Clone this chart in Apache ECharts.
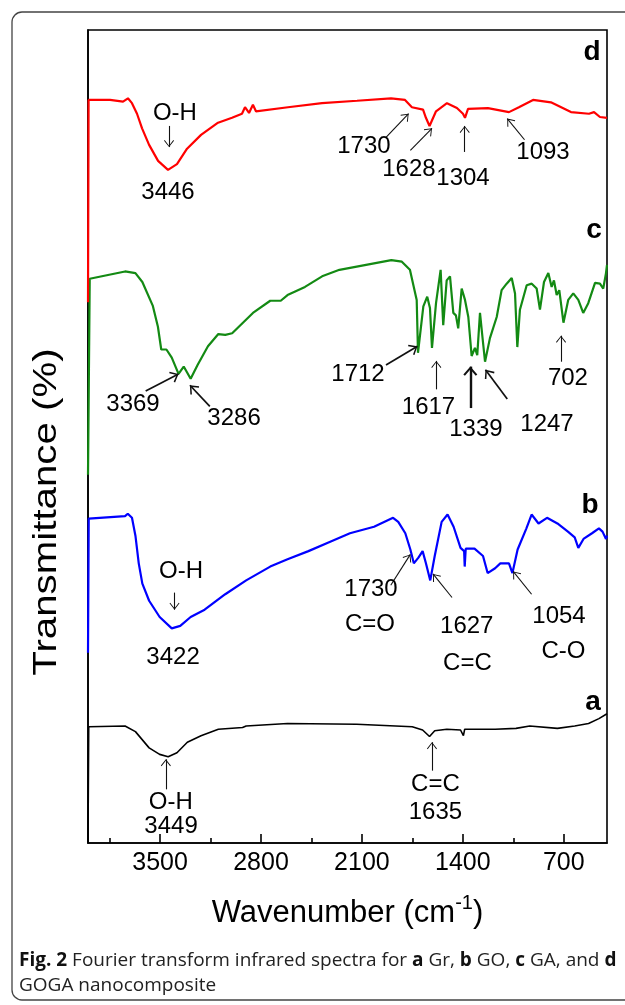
<!DOCTYPE html>
<html><head><meta charset="utf-8">
<script src="https://cdn.jsdelivr.net/npm/echarts@6/dist/echarts.min.js"></script>
<style>html,body{margin:0;padding:0;background:#fff}#c{width:625px;height:1005px}</style>
</head><body><div id="c"></div>
<script>
// ---- data: [wavenumber (cm-1), transmittance offset (a.u.)] ----
const specA = [[4000,0],[3995,14.3],[3743,14.4],[3671,13.7],[3576,11.7],[3503,10.9],[3444,10.6],[3383,11.1],[3311,12.4],[3216,13.2],[3096,14.0],[2928,14.2],[2903,14.4],[2616,14.7],[2136,14.6],[1751,14.3],[1679,13.9],[1631,13.1],[1595,13.8],[1511,14.0],[1416,13.9],[1396,13.2],[1387,14.0],[1176,14.0],[1031,14.1],[936,14.4],[744,14.1],[624,14.4],[528,14.7],[456,15.3],[400,15.9]];
const specB = [[4000,23.4],[3995,39.9],[3743,40.2],[3724,40.5],[3695,40.0],[3671,37.8],[3648,34.4],[3623,31.9],[3576,29.8],[3503,27.8],[3419,26.4],[3360,26.7],[3288,27.8],[3191,28.7],[3048,30.6],[2903,32.3],[2736,34.0],[2616,34.9],[2471,35.9],[2328,37.0],[2183,38.1],[2016,38.9],[1884,40.0],[1848,39.5],[1799,38.1],[1764,36.1],[1740,34.4],[1708,35.1],[1679,35.9],[1656,34.4],[1626,32.3],[1595,35.3],[1547,39.5],[1506,40.4],[1464,38.9],[1416,36.3],[1391,35.9],[1387,34.0],[1380,36.2],[1319,36.2],[1260,35.3],[1228,33.2],[1176,33.8],[1140,34.4],[1080,34.4],[1056,33.2],[1020,36.1],[959,38.7],[923,40.4],[875,39.3],[816,40.0],[744,39.3],[671,38.3],[624,37.6],[599,36.3],[563,37.4],[504,38.1],[456,38.7],[431,38.3],[407,37.4],[400,37.8]];
const specC = [[4000,45.3],[3988,69.4],[3743,70.3],[3671,70.1],[3623,69.0],[3551,66.1],[3515,63.5],[3492,60.7],[3456,60.7],[3419,59.7],[3372,57.7],[3336,58.6],[3288,57.1],[3240,58.8],[3168,61.1],[3096,62.6],[3048,62.5],[3000,62.7],[2856,65.2],[2736,66.7],[2663,66.7],[2616,67.4],[2495,68.4],[2376,69.7],[2256,70.5],[2136,70.9],[2016,71.3],[1896,71.7],[1823,71.5],[1767,70.5],[1720,66.8],[1711,60.3],[1674,66.0],[1647,67.2],[1628,65.8],[1614,60.9],[1586,66.4],[1554,70.5],[1536,63.7],[1512,69.2],[1489,69.7],[1466,65.2],[1448,64.9],[1432,63.3],[1408,68.2],[1385,66.8],[1362,64.7],[1339,59.9],[1316,60.9],[1300,60.0],[1281,65.2],[1262,61.9],[1246,59.2],[1212,62.1],[1165,64.7],[1131,68.0],[1096,68.8],[1061,69.5],[1038,67.6],[1022,61.0],[1004,65.6],[957,68.6],[922,68.8],[888,68.2],[865,65.6],[837,69.0],[807,70.1],[784,68.4],[768,69.2],[749,67.4],[731,68.0],[702,64.0],[669,66.8],[634,67.6],[599,66.8],[565,65.2],[530,66.4],[483,68.9],[449,68.8],[426,68.2],[407,70.1],[400,71.1]];
const specD = [[4000,66.5],[3996,91.4],[3847,91.4],[3757,91.2],[3723,91.6],[3695,91.0],[3660,89.7],[3625,87.9],[3577,85.9],[3514,83.9],[3445,82.8],[3383,83.5],[3313,85.4],[3216,87.1],[3098,88.6],[3001,89.2],[2932,89.7],[2911,90.5],[2883,89.8],[2856,90.8],[2835,90.0],[2613,90.5],[2377,91.0],[2134,91.3],[1898,91.6],[1801,91.4],[1753,90.5],[1676,90.2],[1656,89.2],[1631,88.2],[1586,90.0],[1510,91.0],[1441,90.4],[1399,89.7],[1385,89.2],[1364,90.3],[1226,90.4],[1080,89.9],[1011,90.5],[913,91.4],[789,91.1],[650,89.9],[525,89.7],[490,89.9],[449,89.3],[400,89.2]];

const majorTicks = [3500, 2800, 2100, 1400, 700];
const minorTicks = [3850, 3150, 2450, 1750, 1050];

// panel letters and peak annotations: [text, wavenumber, transmittance]
const panelLetters = [['d',504,97.3],['c',490,75.4],['b',518,41.6],['a',497,17.3]];
const peakLabels = [
  ['O-H',3397,89.8],['3446',3445,80.0],['1730',2086,85.7],['1628',1774,82.9],['1304',1399,81.8],['1093',844,84.9],
  ['3369',3688,54.0],['3286',2987,52.2],['1712',2127,57.7],['1617',1638,53.6],['1339',1309,50.9],['1247',816,51.5],['702',671,57.2],
  ['O-H',3355,33.4],['3422',3410,22.8],['1730',2037,31.2],['C=O',2044,26.9],['1627',1373,26.6],['C=C',1368,22.1],['1054',733,27.9],['C-O',702,23.6],
  ['O-H',3426,5.0],['3449',3424,2.1],['C=C',1590,7.2],['1635',1590,3.8]
];
// arrows: [tail wavenumber, tail T, tip wavenumber, tip T]
const arrowsThin = [
  [3438,88.2,3438,85.6],[1933,86.8,1776,89.7],[1764,85.2,1614,87.9],[1387,85.0,1387,88.2],[972,86.5,1092,89.1],
  [1584,55.8,1584,59.3],[719,59.2,719,62.4],
  [3400,30.8,3400,28.7],[1900,31.7,1764,35.5],[1475,30.2,1607,33.1],[923,30.6,1051,33.4],
  [3460,6.6,3460,10.3],[1614,8.9,1614,12.4]
];
const arrowsMedium = [[3600,55.6,3372,57.7],[3155,53.7,3293,56.3],[1933,58.8,1715,61.1],[1092,54.6,1243,58.2]];
const arrowsThick = [[1348,53.5,1348,58.6]];

const FF = "'Liberation Sans', Arial, sans-serif";
const headThin = 'path://M0,-7M0,0L5,6.3L4.3,7L0,1.4L-4.3,7L-5,6.3Z';
const headMed = 'path://M0,-8M0,0L6,7L4.8,8L0,2.2L-4.8,8L-6,7Z';
const headThick = 'path://M0,-9M0,0L7,8L5.4,9.2L0,3L-5.4,9.2L-7,8Z';

function arrowSeries(list, head, size, width) {
  return {
    type: 'line', data: [], silent: true, xAxisIndex: 0,
    markLine: {
      silent: true, animation: false,
      symbol: ['none', head], symbolSize: size,
      lineStyle: { color: '#111', width: width, type: 'solid' },
      label: { show: false },
      data: list.map(a => [{ coord: [a[0], a[1]] }, { coord: [a[2], a[3]] }])
    }
  };
}
function curve(data, color, width) {
  return { type: 'line', data: data, showSymbol: false, symbol: 'none', silent: true,
    lineStyle: { color: color, width: width }, itemStyle: { color: color }, z: 3 };
}
function textSeries(list, size, weight) {
  return { type: 'scatter', silent: true, symbolSize: 1, z: 5,
    itemStyle: { color: 'rgba(0,0,0,0)' },
    data: list.map(p => ({ value: [p[1], p[2]], name: p[0] })),
    label: { show: true, position: 'inside', formatter: p => p.name, color: '#000', opacity: 1,
      fontSize: size, fontWeight: weight, fontFamily: FF },
    labelLayout: { hideOverlap: false } };
}

const chart = echarts.init(document.getElementById('c'), null, { renderer: 'canvas' });
chart.setOption({
  animation: false,
  backgroundColor: '#fff',
  grid: { left: 88, right: 18, top: 30, bottom: 162, show: true, borderColor: '#000', borderWidth: 1.6, containLabel: false, outerBoundsMode: 'none' },
  xAxis: [
    { type: 'value', min: 400, max: 4000, inverse: true, position: 'bottom',
      axisLine: { show: true, lineStyle: { color: '#000', width: 1.6 } },
      axisTick: { show: true, inside: true, length: 9, customValues: majorTicks, lineStyle: { color: '#000', width: 1.6 } },
      axisLabel: { show: true, customValues: majorTicks, formatter: v => String(v), margin: 8, color: '#000', fontSize: 25, fontFamily: FF },
      splitLine: { show: false },
      name: '{t|Wavenumber (cm}{s|-1}{t|)}', nameLocation: 'middle', nameGap: 50,
      nameTextStyle: { rich: { t: { fontSize: 31, color: '#000', fontFamily: FF, lineHeight: 40 },
                               s: { fontSize: 20, color: '#000', fontFamily: FF, verticalAlign: 'top', lineHeight: 18 } } } },
    { type: 'value', min: 400, max: 4000, inverse: true, position: 'bottom',
      axisLine: { show: false },
      axisTick: { show: true, inside: true, length: 5, customValues: minorTicks, lineStyle: { color: '#000', width: 1.6 } },
      axisLabel: { show: false }, splitLine: { show: false } }
  ],
  yAxis: { type: 'value', min: 0, max: 100,
    axisLine: { show: true, lineStyle: { color: '#000', width: 1.6 } },
    axisTick: { show: false }, axisLabel: { show: false }, splitLine: { show: false } },
  graphic: [
    { type: 'rect', silent: true, shape: { x: 12, y: 12, width: 660, height: 988, r: 10 },
      style: { fill: 'none', stroke: '#444', lineWidth: 1.3 } },
    { type: 'text', silent: true, x: 47, y: 512, rotation: Math.PI / 2, scaleX: 1.22, scaleY: 1,
      style: { text: 'Transmittance (%)', fontSize: 33, fontFamily: FF, fill: '#000', align: 'center', verticalAlign: 'middle' } },
    { type: 'text', silent: true, left: 19, top: 948,
      style: { text: '{b|Fig. 2} Fourier transform infrared spectra for {b|a} Gr, {b|b} GO, {b|c} GA, and {b|d}\nGOGA nanocomposite',
        fontSize: 19, fontFamily: "'Open Sans', sans-serif", fill: '#222', lineHeight: 25,
        rich: { b: { fontWeight: 'bold', fontSize: 19, fontFamily: "'Open Sans', sans-serif", fill: '#111' } } } }
  ],
  series: [
    curve(specA, '#000000', 1.6),
    curve(specB, '#0000ff', 2.2),
    curve(specC, '#138a13', 2.2),
    curve(specD, '#ff0000', 2.2),
    arrowSeries(arrowsThin, headThin, [10, 14], 1.1),
    arrowSeries(arrowsMedium, headMed, [12, 16], 1.7),
    arrowSeries(arrowsThick, headThick, [14, 18.4], 2.4),
    textSeries(peakLabels, 24, 'normal'),
    textSeries(panelLetters, 28, 'bold')
  ]
});
</script></body></html>
